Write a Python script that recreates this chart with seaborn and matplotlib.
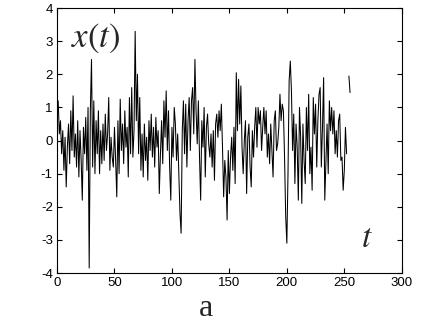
import numpy as np
import pandas as pd
import matplotlib
matplotlib.use("Agg")
import matplotlib.pyplot as plt
import seaborn as sns

# signal values (t = 1..255), gap before the last piece
x_values = [
    1.2, 0.2, 0.6, -0.4, 0.3, -0.9, 0.1, -1.4, -0.2, 0.5,
    -0.7, 0.9, -0.3, 1.35, -0.5, 0.2, -0.8, 0.6, -1.1, 0.3,
    -0.6, -1.8, 0.4, -0.4, 0.7, -0.9, 1.0, -3.85, 0.9, 2.45,
    -0.8, 1.2, -1.0, 0.6, -0.4, 0.9, -1.0, 0.3, -0.7, 0.5,
    -0.6, 0.8, -0.3, 0.2, 1.3, -0.9, 0.1, -0.5, -0.8, 0.4,
    -0.6, -1.7, 0.6, -1.0, 1.25, -0.3, 0.5, -0.7, 0.9, -0.2,
    0.4, -1.1, 1.3, -0.4, 1.6, -0.5, 0.3, 3.3, 0.6, 2.0,
    -0.4, 1.3, -0.9, 0.2, -1.1, 0.5, -0.6, 0.1, -1.2, 0.6,
    -0.3, 0.8, -0.5, 0.4, -0.8, 0.7, -0.2, 0.3, -1.6, -0.4,
    0.6, -0.7, 1.2, 0.1, 1.5, -0.3, 0.9, -0.8, -1.8, 0.4,
    -0.5, 1.0, 0.5, -0.6, 0.2, -1.0, -2.2, -2.8, 0.3, 1.2,
    -0.4, 1.1, -0.8, 0.6, 1.3, -0.3, 1.2, 1.6, 0.2, 2.45,
    0.9, -0.1, 1.2, -0.5, -1.8, 0.6, -0.2, 1.0, -1.1, 0.4,
    0.8, -0.1, -0.5, 0.2, -0.8, 0.3, -1.2, 0.5, 0.8, 0.1,
    0.9, 0.3, 1.1, -0.2, -1.7, -0.6, -1.1, -2.4, -0.3, -1.6,
    -0.5, 0.1, -0.9, 0.4, -1.3, 2.05, 0.3, 1.85, 0.5, 1.65,
    -0.2, -1.0, 0.0, 0.6, -1.6, 0.1, 0.5, -0.8, -1.4, 0.3,
    -0.5, 0.4, 1.0, -0.2, 1.0, 0.5, 0.9, -0.3, 0.4, 1.0,
    0.2, 0.9, -0.5, 0.2, -0.7, 0.5, -0.3, -1.1, 0.6, 0.9,
    -0.3, -0.1, 0.4, 1.4, 0.6, 1.1, 0.9, -0.5, -2.3, -3.1,
    -1.0, 1.8, 2.4, 1.5, -0.3, 0.8, -1.3, 0.5, -0.2, -1.8,
    1.0, 0.1, -1.9, 0.5, -0.6, -1.3, 1.0, -0.3, 1.4, -1.0,
    -0.2, -1.5, 1.3, 0.2, 1.1, -0.8, 0.6, 1.4, 1.6, -0.8,
    0.4, 1.9, -1.8, -0.6, 0.5, -1.0, 1.2, 0.3, 1.0, 0.2,
    0.9, -0.4, 0.3, -0.5, 0.6, 0.8, -0.6, -0.5, -1.5, -0.9,
    0.4, -0.4, np.nan, 1.95, 1.45,
]
t_values = list(range(1, len(x_values) + 1))

x_ticks = [0, 50, 100, 150, 200, 250, 300]
y_ticks = [-4, -3, -2, -1, 0, 1, 2, 3, 4]

df = pd.DataFrame({"t": t_values, "x": x_values})
# split into pieces at the missing sample so the line breaks there
df["piece"] = df["x"].isna().cumsum()
df = df.dropna()

sns.set_style("ticks", {"xtick.direction": "in", "ytick.direction": "in",
                        "axes.edgecolor": "black"})
plt.rcParams["font.family"] = ["Liberation Sans", "DejaVu Sans"]
plt.rcParams["mathtext.fontset"] = "stix"
plt.rcParams["axes.unicode_minus"] = False

fig = plt.figure(figsize=(4.32, 3.25), dpi=100)
ax = fig.add_axes([0.132, 0.160, 0.798, 0.815])

sns.lineplot(data=df, x="t", y="x", units="piece", estimator=None,
             color="black", linewidth=0.75, ax=ax, legend=False)

ax.set_xlim(0, 300)
ax.set_ylim(-4, 4)
ax.set_xticks(x_ticks)
ax.set_yticks(y_ticks)
ax.set_xlabel("")
ax.set_ylabel("")
ax.tick_params(axis="both", which="both", direction="in", length=3.5,
               width=0.8, labelsize=9.5, colors="black",
               top=True, right=True, pad=3)
for sp in ax.spines.values():
    sp.set_linewidth(0.8)
    sp.set_color("black")

ax.text(0.113, 0.887, r"$x(t)$", transform=ax.transAxes, fontsize=25,
        ha="center", va="center")
ax.text(0.899, 0.132, r"$t$", transform=ax.transAxes, fontsize=24,
        ha="center", va="center")
fig.text(0.477, 0.005, "a", fontsize=23, family="Liberation Serif",
         ha="center", va="bottom")

fig.savefig("out.png", dpi=100)
